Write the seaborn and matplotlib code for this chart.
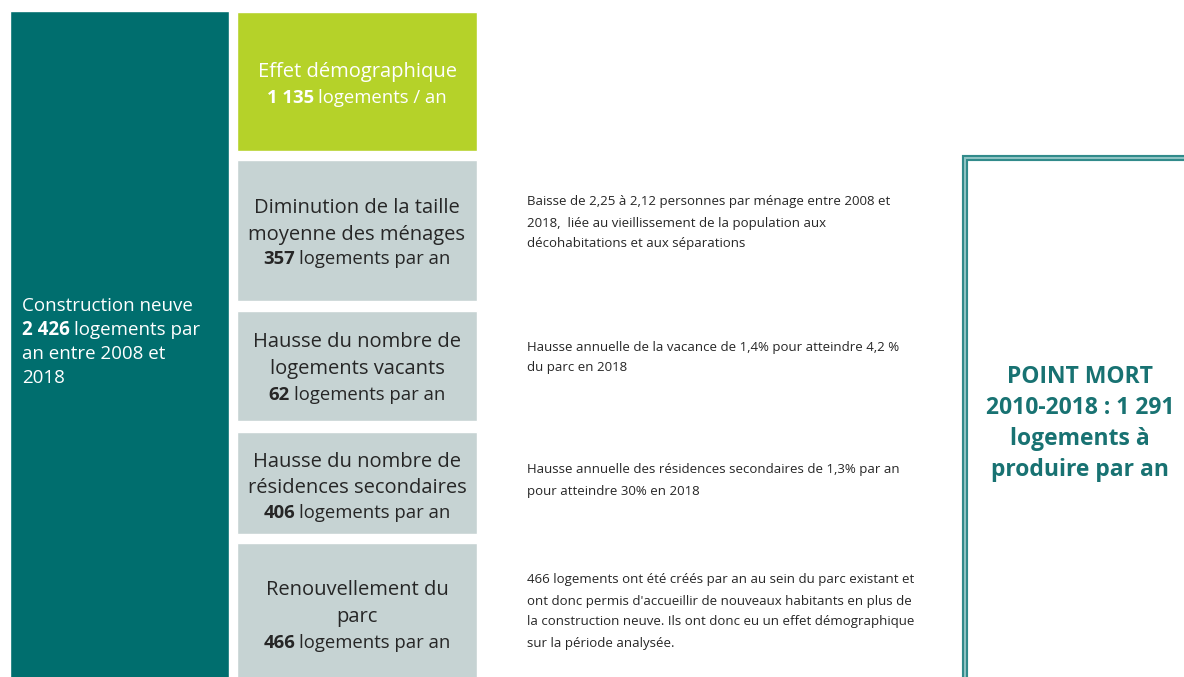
import matplotlib
matplotlib.use("Agg")
import matplotlib.pyplot as plt
import seaborn as sns

# ---------- data ----------
construction_total = 2426
point_mort = 1291
box_titles = ["Effet démographique",
              "Diminution de la taille\nmoyenne des ménages",
              "Hausse du nombre de\nlogements vacants",
              "Hausse du nombre de\nrésidences secondaires",
              "Renouvellement du\nparc"]
box_values = [1135, 357, 62, 406, 466]
box_units = ["logements / an", "logements par an", "logements par an",
             "logements par an", "logements par an"]
descriptions = [
    "",
    "Baisse de 2,25 à 2,12 personnes par ménage entre 2008 et\n"
    "2018,  liée au vieillissement de la population aux\n"
    "décohabitations et aux séparations",
    "Hausse annuelle de la vacance de 1,4% pour atteindre 4,2 %\n"
    "du parc en 2018",
    "Hausse annuelle des résidences secondaires de 1,3% par an\n"
    "pour atteindre 30% en 2018",
    "466 logements ont été créés par an au sein du parc existant et\n"
    "ont donc permis d'accueillir de nouveaux habitants en plus de\n"
    "la construction neuve. Ils ont donc eu un effet démographique\n"
    "sur la période analysée.",
]

# ---------- layout (pixels) ----------
box_top = [12, 160, 311, 432, 543]
box_bottom = [151, 301, 421, 534, 690]
box_colors = ["#B5D229", "#C6D3D3", "#C6D3D3", "#C6D3D3", "#C6D3D3"]
title_ys = [[72], [208, 235], [342, 369], [462, 488], [590, 617]]
value_ys = [98, 259, 395, 513, 643]
desc_top = [0, 202, 347, 470, 580]

TEAL = "#006E6E"
DARK = "#262626"

sns.set_theme(style="white")
plt.rcParams["font.family"] = ["Open Sans", "DejaVu Sans"]


def fmt(v):
    return f"{v:,}".replace(",", " ")


def mixed(ax, x, y, parts, size, color, ha="center"):
    # draw a line made of bold/regular pieces
    r = ax.figure.canvas.get_renderer()
    texts = []
    for s, w in parts:
        t = ax.text(0, y, s, fontsize=size, fontweight=w, color=color,
                    va="center", ha="left")
        texts.append(t)
    widths = [t.get_window_extent(renderer=r).width for t in texts]
    space = size * 100 / 72 * 0.24
    total = sum(widths) + space * (len(parts) - 1)
    cur = x - total / 2 if ha == "center" else x
    for t, w in zip(texts, widths):
        t.set_x(cur)
        cur += w + space


fig = plt.figure(figsize=(11.84, 6.77), dpi=100)
ax = fig.add_axes([0, 0, 1, 1])
ax.set_xlim(0, 1184)
ax.set_ylim(677, 0)
ax.axis("off")

# left column
ax.bar(119, 700, width=219, bottom=11, color=TEAL, align="center")
mixed(ax, 22, 306, [("Construction neuve", "normal")], 13.5, "white", ha="left")
mixed(ax, 22, 330, [(fmt(construction_total), "bold"), ("logements par", "normal")],
      13.5, "white", ha="left")
mixed(ax, 22, 354, [("an entre 2008 et", "normal")], 13.5, "white", ha="left")
mixed(ax, 22, 378, [("2018", "normal")], 13.5, "white", ha="left")

# middle boxes
heights = [b - t for t, b in zip(box_top, box_bottom)]
ax.bar([357] * 5, heights, width=240, bottom=box_top, color=box_colors)
for i in range(5):
    tcol = "white" if i == 0 else DARK
    for line, y in zip(box_titles[i].split("\n"), title_ys[i]):
        ax.text(357, y, line, fontsize=14.5, color=tcol,
                ha="center", va="center")
    mixed(ax, 357, value_ys[i], [(fmt(box_values[i]), "bold"), (box_units[i], "normal")],
          13.3, tcol)
    if descriptions[i]:
        for k, line in enumerate(descriptions[i].split("\n")):
            ax.text(527, desc_top[i] + 21 * k, line, fontsize=9.5, color=DARK,
                    ha="left", va="center")

# right frame (double line)
ax.plot([965, 965, 1190], [700, 158, 158], color="#8FC3C3", lw=4.5,
        solid_joinstyle="miter")
ax.plot([963, 963, 1190], [700, 156, 156], color="#2F8A8A", lw=1.4,
        solid_joinstyle="miter")
ax.plot([967, 967, 1190], [700, 160, 160], color="#2F8A8A", lw=1.4,
        solid_joinstyle="miter")

right_lines = ["POINT MORT", f"2010-2018 : {fmt(point_mort)}", "logements à",
               "produire par an"]
for k, line in enumerate(right_lines):
    ax.text(1080, 377 + 31 * k, line, fontsize=16.5, fontweight="bold",
            color="#187272", ha="center", va="center")

fig.savefig("out.png", dpi=100)
